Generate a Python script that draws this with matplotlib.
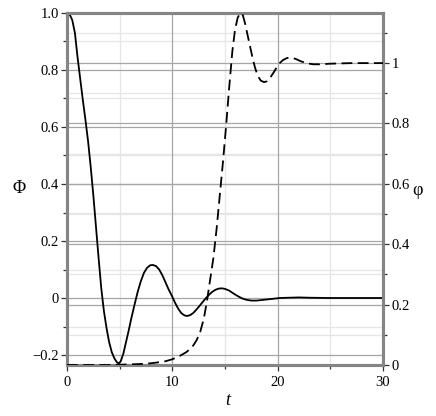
import numpy as np
import matplotlib
matplotlib.use("Agg")
import matplotlib.pyplot as plt
import matplotlib.transforms as mtransforms
from matplotlib.ticker import MultipleLocator, FixedLocator


# Phi(t), solid curve, left axis
t_Phi = [0, 0.25, 0.5, 0.75, 1.0, 1.25, 1.5, 1.75, 2.0, 2.25, 2.5, 2.75, 3.0,
         3.25, 3.5, 3.75, 4.0, 4.25, 4.5, 4.75, 4.93, 5.1, 5.35, 5.6, 5.85,
         6.1, 6.4, 6.7, 7.0, 7.3, 7.6, 7.9, 8.15, 8.45, 8.75, 9.05, 9.35, 9.65,
         9.95, 10.25, 10.55, 10.85, 11.15, 11.4, 11.7, 12.0, 12.3, 12.6, 12.9,
         13.2, 13.5, 13.8, 14.1, 14.4, 14.7, 15.0, 15.4, 15.8, 16.2, 16.6, 17.0,
         17.5, 18.0, 18.5, 19.0, 19.5, 20.2, 21.0, 22.0, 23.0, 25.0, 30.0]
Phi = [1.0, 0.995, 0.975, 0.93, 0.845, 0.77, 0.695, 0.625, 0.55, 0.46, 0.36,
       0.25, 0.14, 0.035, -0.045, -0.105, -0.155, -0.19, -0.212, -0.226,
       -0.229, -0.222, -0.195, -0.155, -0.115, -0.072, -0.025, 0.02, 0.058,
       0.088, 0.106, 0.115, 0.116, 0.112, 0.1, 0.08, 0.055, 0.03, 0.008,
       -0.016, -0.037, -0.053, -0.061, -0.063, -0.06, -0.052, -0.04, -0.027,
       -0.013, 0.0, 0.012, 0.022, 0.029, 0.033, 0.034, 0.032, 0.026, 0.016,
       0.007, -0.001, -0.006, -0.009, -0.009, -0.007, -0.005, -0.003, 0.0,
       0.001, 0.002, 0.001, 0.0, 0.0]

# phi(t), dashed curve, right axis
t_phi = [0, 4, 6, 7.5, 8.5, 9.3, 10.0, 10.7, 11.35, 11.9, 12.3, 12.65, 13.0,
         13.3, 13.6, 13.9, 14.2, 14.5, 14.8, 15.1, 15.4, 15.7, 15.95, 16.2,
         16.4, 16.55, 16.7, 16.9, 17.1, 17.35, 17.6, 17.85, 18.1, 18.4, 18.7,
         19.0, 19.3, 19.6, 19.9, 20.2, 20.5, 20.9, 21.3, 21.7, 22.2, 22.8,
         23.4, 24.0, 25.0, 27.0, 30.0]
phi = [0, 0, 0.002, 0.004, 0.008, 0.012, 0.019, 0.03, 0.043, 0.06, 0.082,
       0.11, 0.155, 0.215, 0.285, 0.355, 0.45, 0.56, 0.67, 0.79, 0.92, 1.04,
       1.11, 1.15, 1.163, 1.166, 1.158, 1.132, 1.1, 1.06, 1.02, 0.985, 0.958,
       0.942, 0.937, 0.94, 0.952, 0.968, 0.985, 1.0, 1.01, 1.017, 1.018,
       1.014, 1.006, 0.999, 0.996, 0.996, 0.998, 1.0, 1.0]

x_ticks = [0, 10, 20, 30]
x_labels = ["0", "10", "20", "30"]
left_ticks = [-0.2, 0, 0.2, 0.4, 0.6, 0.8, 1.0]
left_labels = ["\u22120.2", "0", "0.2", "0.4", "0.6", "0.8", "1.0"]
right_ticks = [0, 0.2, 0.4, 0.6, 0.8, 1.0]
right_labels = ["0", "0.2", "0.4", "0.6", "0.8", "1"]

plt.rcParams['font.family'] = ['Liberation Serif', 'DejaVu Serif']
plt.rcParams['font.size'] = 10.5

spine_col = '#858585'
grid_dark = '#a6a6a6'
grid_light = '#e6e6e6'

fig = plt.figure(figsize=(4.36, 4.16), dpi=100)
ax = fig.add_axes([0.1537, 0.1226, 0.7247, 0.8462])
ax2 = ax.twinx()

ax.set_xlim(0, 30)
ax.set_ylim(-0.235, 1.0)
ax2.set_ylim(0, 1.166)

# grids, all drawn in the lower axes so that they stay under both curves
tr_left = mtransforms.blended_transform_factory(ax.transAxes, ax.transData)
tr_right = mtransforms.blended_transform_factory(ax.transAxes, ax2.transData)
for v in np.arange(-0.1, 1.0, 0.2):
    ax.plot([0, 1], [v, v], transform=tr_left, color=grid_light, lw=0.9, zorder=0)
for v in np.arange(0.1, 1.2, 0.2):
    ax.plot([0, 1], [v, v], transform=tr_right, color=grid_light, lw=0.9, zorder=0)
for v in left_ticks:
    ax.plot([0, 1], [v, v], transform=tr_left, color=grid_dark, lw=0.9, zorder=0.5)
for v in right_ticks:
    ax.plot([0, 1], [v, v], transform=tr_right, color=grid_dark, lw=0.9, zorder=0.5)
for v in [5, 15, 25]:
    ax.axvline(v, color=grid_light, lw=0.9, zorder=0)
for v in [10, 20]:
    ax.axvline(v, color=grid_dark, lw=0.9, zorder=0.5)

ax.plot(t_Phi, Phi, color='black', lw=1.3, zorder=3)
ax2.plot(t_phi, phi, color='black', lw=1.3, dashes=(6, 3), zorder=3)

ax.xaxis.set_major_locator(FixedLocator(x_ticks))
ax.set_xticklabels(x_labels)
ax.xaxis.set_minor_locator(MultipleLocator(5))
ax.yaxis.set_major_locator(FixedLocator(left_ticks))
ax.set_yticklabels(left_labels)
ax.yaxis.set_minor_locator(FixedLocator(np.arange(-0.1, 1.0, 0.2)))
ax2.yaxis.set_major_locator(FixedLocator(right_ticks))
ax2.set_yticklabels(right_labels)
ax2.yaxis.set_minor_locator(FixedLocator(np.arange(0.1, 1.2, 0.2)))

for a in (ax, ax2):
    a.tick_params(which='major', direction='out', length=4, width=0.9,
                  color='#333333', pad=2)
    a.tick_params(which='minor', direction='out', length=3, width=0.9,
                  color='#333333')
    for s in a.spines.values():
        s.set_color(spine_col)
        s.set_linewidth(2.2)
ax.tick_params(axis='x', pad=4)

fig.text(0.043, 0.548, "\u03a6", fontsize=13, ha='center', va='center')
fig.text(0.958, 0.543, "\u03c6", fontsize=13, ha='center', va='center')
fig.text(0.523, 0.038, "t", fontsize=13, style='italic', ha='center', va='center')

fig.savefig("out.png", dpi=100)
